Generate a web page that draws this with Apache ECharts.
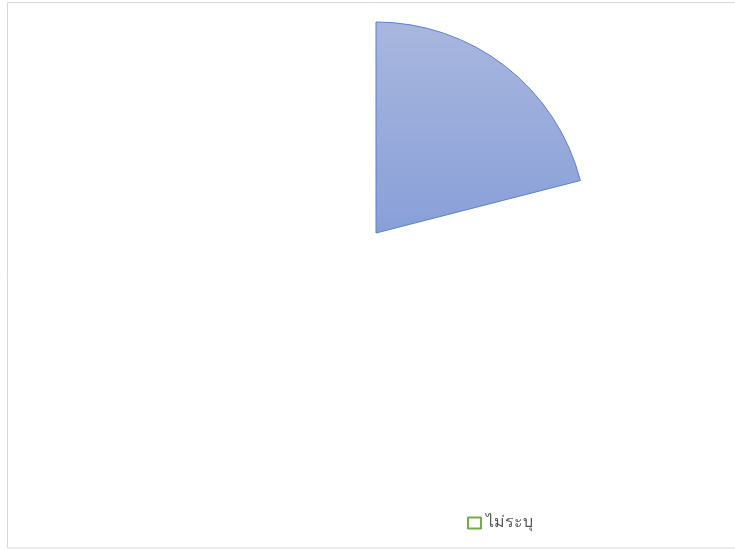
<!DOCTYPE html>
<html>
<head>
<meta charset="utf-8">
<script src="https://cdn.jsdelivr.net/npm/echarts@6/dist/echarts.min.js"></script>
<style>
  html, body { margin: 0; padding: 0; background: #fff; }
  #chart { width: 735px; height: 550px; }
</style>
</head>
<body>
<div id="chart"></div>
<script>
// ข้อมูล: มีเพียงชิ้นเดียวที่มองเห็น ส่วนที่เหลือไม่มีสี
var categories = ['รายการ', 'ไม่ระบุ'];
var values = [21, 79];
var legendNames = ['ไม่ระบุ'];

var chart = echarts.init(document.getElementById('chart'));

var pieData = categories.map(function(name, i)
{
	if (i === 0)
	{
		return {
			name: name,
			value: values[i],
			itemStyle: {
				color: new echarts.graphic.LinearGradient(0, 0, 0, 1, [
					{ offset: 0, color: '#a9b7df' },
					{ offset: 1, color: '#889fd8' }
				]),
				borderColor: '#5b7fcf',
				borderWidth: 1
			}
		};
	}
	return {
		name: name,
		value: values[i],
		itemStyle: { color: 'rgba(255,255,255,0)', borderWidth: 0 }
	};
});

var options =
{
	backgroundColor: '#fff',
	animation: false,
	graphic: [{
		type: 'rect',
		shape: { x: 7.5, y: 2.5, width: 740, height: 545.5 },
		style: { fill: 'none', stroke: '#d9d9d9', lineWidth: 1 },
		silent: true
	}],
	legend: {
		data: legendNames.map(function(n)
		{
			return { name: n, icon: 'rect', itemStyle: { color: '#fff', borderColor: '#70ad47', borderWidth: 2 } };
		}),
		left: 462,
		top: 510,
		itemWidth: 13,
		itemHeight: 11,
		itemGap: 10,
		selectedMode: false,
		textStyle: { color: '#595959', fontSize: 16, fontFamily: 'sans-serif' }
	},
	series: [{
		type: 'pie',
		center: [376, 233],
		radius: 211,
		startAngle: 90,
		clockwise: true,
		label: { show: false },
		labelLine: { show: false },
		emphasis: { disabled: true },
		data: pieData
	}]
};

chart.setOption(options);
</script>
</body>
</html>
